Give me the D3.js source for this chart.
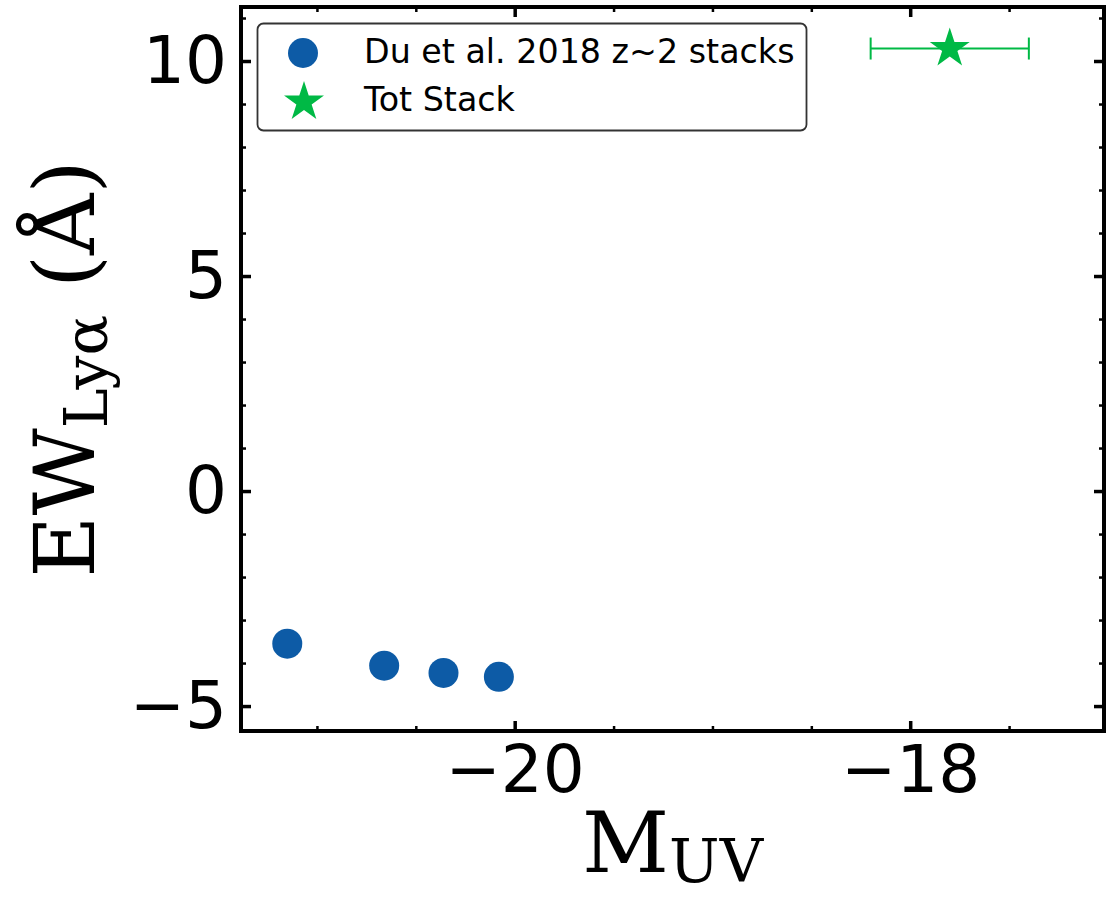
<!DOCTYPE html>
<html lang="en">
<head>
    <meta charset="UTF-8">
    <title>EW Lya vs MUV</title>
    <script src="https://d3js.org/d3.v7.min.js"></script>
    <style>
        body, html {
            margin: 0;
            background-color: #ffffff;
            overflow: hidden;
        }
        svg text { fill: #000; }
        .axis path { display: none; }
        .axis line { stroke: #000; }
    </style>
</head>
<body>
<svg id="chart" width="1106" height="897"></svg>

<script>
    // Du et al. 2018 z~2 stacks
    const duMuv = [-21.15, -20.66, -20.36, -20.08];
    const duEw = [-3.55, -4.06, -4.23, -4.32];

    // total stack with x error
    const totMuv = [-17.80];
    const totEw = [10.29];
    const totMuvErr = [0.40];

    const xTicks = [-20, -18];
    const yTicks = [-5, 0, 5, 10];
    const legendLabels = ["Du et al. 2018 z~2 stacks", "Tot Stack"];

    const blue = "#0d5ba6";
    const green = "#00b945";

    const plotL = 241, plotR = 1104, plotT = 7, plotB = 731;

    const svg = d3.select("#chart");

    const x = d3.scaleLinear().domain([-21.384, -17.02]).range([plotL, plotR]);
    const y = d3.scaleLinear().domain([-5.58, 11.256]).range([plotB, plotT]);

    const xMinor = d3.range(-21, -17, 0.5).filter(v => !xTicks.includes(v));
    const yMinor = d3.range(-5, 12, 1).filter(v => !yTicks.includes(v));

    // ticks point inward on all four sides
    function drawTicks(axisFn, scale, major, minor, transform, labels) {
        const gMinor = svg.append("g").attr("class", "axis").attr("transform", transform)
            .call(axisFn(scale).tickValues(minor).tickSizeInner(-5).tickSizeOuter(0).tickFormat(""));
        gMinor.selectAll("line").attr("stroke-width", 2.5);
        const g = svg.append("g").attr("class", "axis").attr("transform", transform)
            .call(axisFn(scale).tickValues(major).tickSizeInner(-10).tickSizeOuter(0)
                .tickPadding(14).tickFormat(labels ? d => d3.format("")(d).replace("-", "\u2212") : ""));
        g.selectAll("line").attr("stroke-width", 3.5);
        g.selectAll("text")
            .attr("font-family", "DejaVu Sans")
            .attr("font-size", 66);
        return g;
    }

    drawTicks(d3.axisBottom, x, xTicks, xMinor, `translate(0,${plotB})`, true);
    drawTicks(d3.axisTop, x, xTicks, xMinor, `translate(0,${plotT})`, false);
    drawTicks(d3.axisLeft, y, yTicks, yMinor, `translate(${plotL},0)`, true);
    drawTicks(d3.axisRight, y, yTicks, yMinor, `translate(${plotR},0)`, false);

    // frame
    svg.append("rect")
        .attr("x", plotL).attr("y", plotT)
        .attr("width", plotR - plotL).attr("height", plotB - plotT)
        .attr("fill", "none").attr("stroke", "#000").attr("stroke-width", 4);

    // Du et al. points
    svg.append("g").selectAll("circle")
        .data(duMuv.map((m, i) => ({ m, ew: duEw[i] })))
        .join("circle")
        .attr("cx", d => x(d.m))
        .attr("cy", d => y(d.ew))
        .attr("r", 15)
        .attr("fill", blue);

    // total stack: error bar + star
    const starSize = 21 * 21 / 0.8908130915292852;
    const star = d3.symbol().type(d3.symbolStar).size(starSize);
    const tot = totMuv.map((m, i) => ({ m, ew: totEw[i], err: totMuvErr[i] }));
    const gTot = svg.append("g");
    tot.forEach(d => {
        gTot.append("line")
            .attr("x1", x(d.m - d.err)).attr("x2", x(d.m + d.err))
            .attr("y1", y(d.ew)).attr("y2", y(d.ew))
            .attr("stroke", green).attr("stroke-width", 2);
        [d.m - d.err, d.m + d.err].forEach(v => {
            gTot.append("line")
                .attr("x1", x(v)).attr("x2", x(v))
                .attr("y1", y(d.ew) - 11).attr("y2", y(d.ew) + 11)
                .attr("stroke", green).attr("stroke-width", 2);
        });
        gTot.append("path")
            .attr("d", star)
            .attr("transform", `translate(${x(d.m)},${y(d.ew)})`)
            .attr("fill", green);
    });

    // legend
    const leg = svg.append("g");
    leg.append("rect")
        .attr("x", 257.5).attr("y", 23.5)
        .attr("width", 549).attr("height", 107)
        .attr("rx", 6)
        .attr("fill", "#fff").attr("stroke", "#333").attr("stroke-width", 1.8);
    leg.append("circle").attr("cx", 303).attr("cy", 53).attr("r", 15).attr("fill", blue);
    leg.append("path").attr("d", star).attr("transform", "translate(304,102)").attr("fill", green);
    legendLabels.forEach((t, i) => {
        leg.append("text")
            .attr("x", 364).attr("y", 63 + i * 48)
            .attr("font-family", "DejaVu Sans")
            .attr("font-size", 33.3)
            .text(t);
    });

    // axis labels
    const xl = svg.append("text")
        .attr("x", (plotL + plotR) / 2).attr("y", 872)
        .attr("text-anchor", "middle")
        .attr("font-family", "DejaVu Serif")
        .attr("font-size", 85);
    xl.append("tspan").text("M");
    xl.append("tspan").attr("font-size", 60).attr("dy", 10).text("UV");

    const yl = svg.append("text")
        .attr("transform", `translate(94,${(plotT + plotB) / 2}) rotate(-90)`)
        .attr("text-anchor", "middle")
        .attr("font-family", "DejaVu Serif")
        .attr("font-size", 85);
    yl.append("tspan").text("EW");
    yl.append("tspan").attr("font-size", 60).attr("dy", 13).text("Ly\u03b1");
    yl.append("tspan").attr("dy", -13).text(" (\u00c5)");
</script>
</body>
</html>
